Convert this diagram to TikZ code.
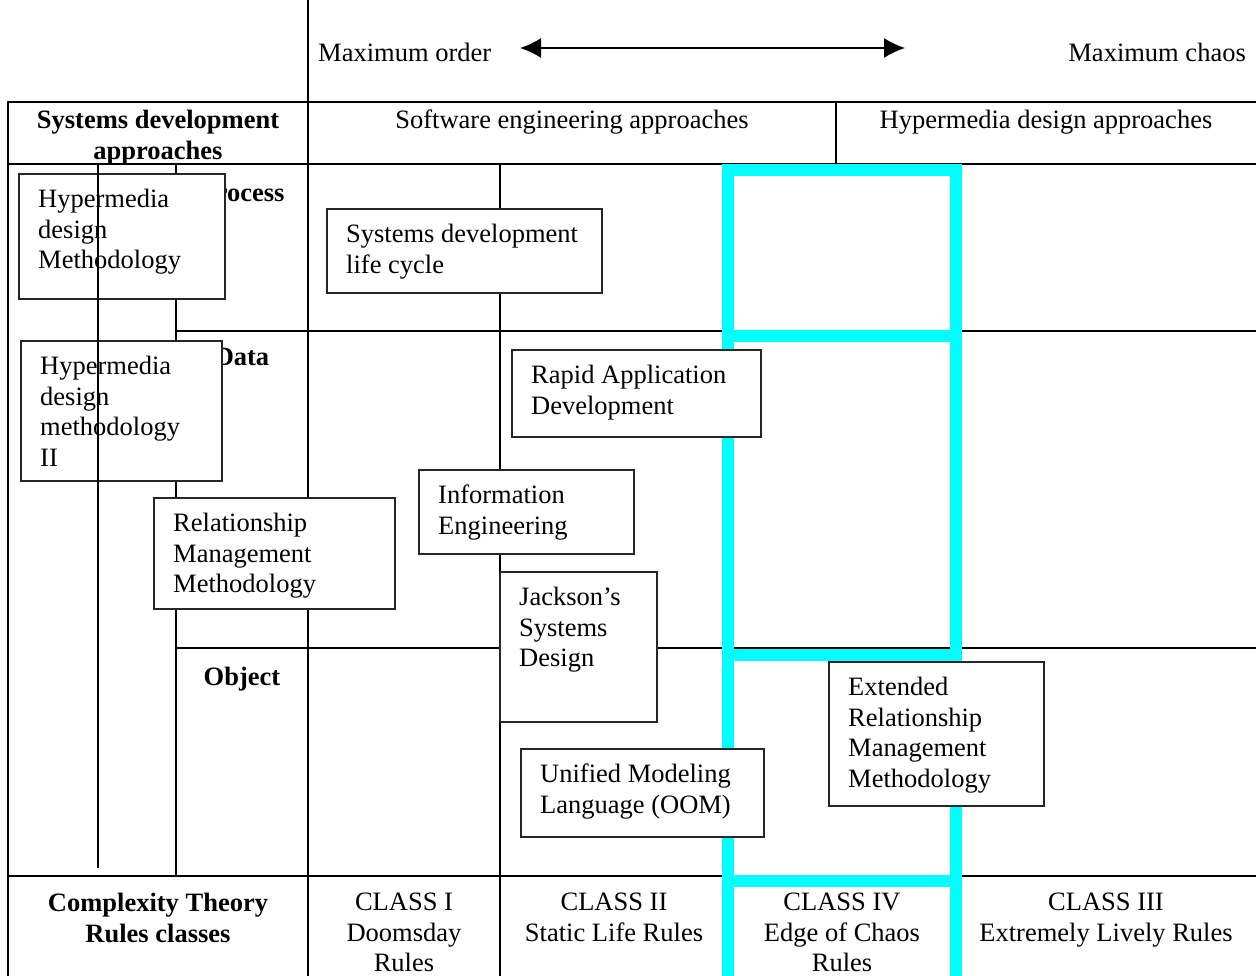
\documentclass[tikz,border=0pt]{standalone}
\usepackage{fontspec}
\setmainfont{Liberation Serif}
\usetikzlibrary{arrows.meta}
\definecolor{aqua}{RGB}{0,255,255}
\newcommand\dfont{\fontsize{26.5}{30.5}\selectfont}
\newcommand\mbx[6]{%
  \node[mbox, minimum width=#4pt, minimum height=#5pt] (#1) at (#2,#3) {};
  \node[mtext] (#1t) at ([shift={(20,16)}]#1.north west) {#6};
}
\begin{document}
\begin{tikzpicture}[x=1pt,y=-1pt,
  rule/.style={line width=1.8pt, black},
  cyanline/.style={line width=12pt, draw=aqua},
  mbox/.style={draw=black!85, line width=1.6pt, fill=white, inner sep=0pt, anchor=north west},
  mtext/.style={anchor=north west, align=left, inner sep=0pt, font=\dfont},
  ctext/.style={anchor=north, align=center, inner sep=0pt, font=\dfont},
  btext/.style={anchor=north, align=center, inner sep=0pt, font=\dfont\bfseries},
  arr/.style={{Latex[length=21pt,width=20pt]}-{Latex[length=21pt,width=20pt]}, line width=1.5pt},
]
\useasboundingbox[fill=white] (0,0) rectangle (1256,976);

% table rules
\draw[rule] (8,102) -- (1256,102);
\draw[rule] (8,164) -- (1256,164);
\draw[rule] (176,331) -- (1256,331);
\draw[rule] (176,648) -- (1256,648);
\draw[rule] (8,876) -- (1256,876);
\draw[rule] (8,101) -- (8,976);
\draw[rule] (176,164) -- (176,876);
\draw[rule] (308,0) -- (308,976);
\draw[rule] (500,164) -- (500,976);
\draw[rule] (836,102) -- (836,164);

% top scale
\node[anchor=north west, inner sep=0pt, font=\dfont] (mo) at (318,43) {Maximum order};
\node[anchor=north east, inner sep=0pt, font=\dfont] (mc) at (1246,43) {Maximum chaos};
\coordinate (aL) at (520,48);
\coordinate (aR) at (905,48);
\draw[arr] (aL) -- (aR);

% header texts
\node[btext] (sda) at (158,110) {Systems development\\approaches};
\node[ctext] (sea) at (572,110) {Software engineering approaches};
\node[ctext] (hda) at (1046,110) {Hypermedia design approaches};

% row labels
\node[btext] (proc) at (242,184) {Process};
\node[btext] (data) at (242,348) {Data};
\node[btext] (obj) at (242,667) {Object};

% bottom row
\node[btext] (ctr) at (158,893) {Complexity Theory\\Rules classes};
\node[ctext] (c1) at (404,893) {CLASS I\\Doomsday\\Rules};
\node[ctext] (c2) at (614,893) {CLASS II\\Static Life Rules};
\node[ctext] (c4) at (842,893) {CLASS IV\\Edge of Chaos\\Rules};
\node[ctext] (c3) at (1106,893) {CLASS III\\Extremely Lively Rules};

% cyan edge-of-chaos frame
\draw[cyanline] (728,164) -- (728,976);
\draw[cyanline] (956,164) -- (956,976);
\foreach \yy in {170,336,655,881} \draw[cyanline] (722,\yy) -- (962,\yy);

% method boxes
\mbx{b1}{18}{173}{206}{125}{Hypermedia\\design\\Methodology}
\mbx{b2}{326}{208}{275}{84}{Systems development\\life cycle}
\mbx{b3}{20}{340}{201}{140}{Hypermedia\\design\\methodology\\II}
\mbx{b4}{511}{349}{249}{87}{Rapid Application\\Development}
\mbx{b5}{418}{469}{215}{84}{Information\\Engineering}
\mbx{b6}{153}{497}{241}{111}{Relationship\\Management\\Methodology}
\mbx{b7}{499}{571}{157}{150}{Jackson’s\\Systems\\Design}
\mbx{b8}{828}{661}{215}{144}{Extended\\Relationship\\Management\\Methodology}
\mbx{b9}{520}{748}{243}{88}{Unified Modeling\\Language (OOM)}

% line drawn over the left boxes
\draw[rule] (98,164) -- (98,868);
\end{tikzpicture}
\end{document}
